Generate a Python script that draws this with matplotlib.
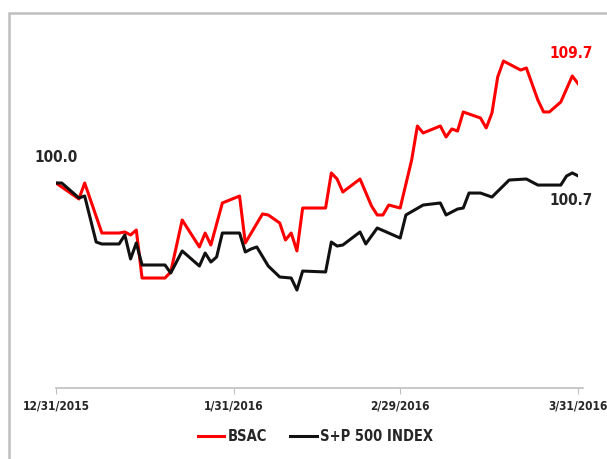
import numpy as np
import pandas as pd
import matplotlib
matplotlib.use("Agg")
import matplotlib.pyplot as plt
import matplotlib.dates as mdates
from matplotlib.patches import Rectangle

plt.rcParams["font.family"] = ["DejaVu Sans"]
plt.rcParams["font.stretch"] = "condensed"

start = pd.Timestamp("2015-12-31")

# days after 12/31/2015 and index level
bsac_days = [0, 4, 5, 8, 11, 12, 13, 14, 15, 19, 20, 22, 25, 26, 27, 29, 32, 33,
             36, 37, 39, 40, 41, 42, 43, 47, 48, 49, 50, 53, 55, 56, 57, 58, 60,
             62, 63, 64, 67, 68, 69, 70, 71, 74, 75, 76, 77, 78, 81, 82, 84, 85,
             86, 88, 90, 91]
bsac_vals = [100.0, 98.44, 100.0, 95.12, 95.12, 95.22, 94.93, 95.41, 90.73, 90.73,
             91.32, 96.39, 93.76, 95.12, 93.95, 98.05, 98.73, 94.15, 96.98, 96.88,
             96.10, 94.44, 95.12, 93.37, 97.56, 97.56, 100.98, 100.39, 99.12, 100.39,
             97.76, 96.88, 96.88, 97.85, 97.56, 102.24, 105.56, 104.88, 105.56, 104.49,
             105.27, 105.07, 106.93, 106.34, 105.37, 106.83, 110.34, 111.90, 111.02,
             111.22, 108.10, 106.93, 106.93, 107.90, 110.44, 109.7]

spx_days = [0, 1, 4, 5, 7, 8, 11, 12, 13, 14, 15, 19, 20, 22, 25, 26, 27, 28, 29,
            32, 33, 34, 35, 37, 39, 41, 42, 43, 47, 48, 49, 50, 53, 54, 56, 60, 61,
            64, 67, 68, 70, 71, 72, 74, 76, 79, 82, 84, 88, 89, 90, 91]
spx_vals = [100.0, 100.0, 98.54, 98.73, 94.24, 94.05, 94.05, 94.93, 92.59, 94.15,
            92.00, 92.00, 91.22, 93.37, 91.90, 93.17, 92.29, 92.78, 95.12, 95.12,
            93.27, 93.56, 93.76, 91.90, 90.83, 90.73, 89.56, 91.41, 91.32, 94.24,
            93.85, 93.95, 95.22, 94.05, 95.61, 94.63, 96.88, 97.85, 98.05, 96.88,
            97.46, 97.56, 99.02, 99.02, 98.63, 100.29, 100.39, 99.80, 99.80, 100.68,
            100.98, 100.7]

tick_days = [0, 31, 60, 91]
tick_labels = ["12/31/2015", "1/31/2016", "2/29/2016", "3/31/2016"]

bsac_dates = [start + pd.Timedelta(days=d) for d in bsac_days]
spx_dates = [start + pd.Timedelta(days=d) for d in spx_days]
tick_dates = [start + pd.Timedelta(days=d) for d in tick_days]

fig = plt.figure(figsize=(6.07, 4.59), dpi=100)
ax = fig.add_axes([56 / 607, 71 / 459, 522 / 607, 369 / 459])

ax.plot(bsac_dates, bsac_vals, color="#ff0000", lw=2.2, label="BSAC")
ax.plot(spx_dates, spx_vals, color="#111111", lw=2.2, label="S+P 500 INDEX")

ax.set_xlim(tick_dates[0], tick_dates[-1])
ax.set_ylim(80, 116)
ax.set_xticks(tick_dates)
ax.set_xticklabels(tick_labels, fontsize=8.6, fontweight="bold", color="#262626")
ax.tick_params(axis="x", length=4, color="#bfbfbf", pad=4.5)
ax.set_yticks([])
for s in ["left", "right", "top"]:
    ax.spines[s].set_visible(False)
ax.spines["bottom"].set_color("#bfbfbf")
ax.spines["bottom"].set_linewidth(1.2)
ax.spines["bottom"].set_bounds(mdates.date2num(tick_dates[0]), mdates.date2num(tick_dates[-1]) + 0.8)
ax.patch.set_alpha(0)

# end labels
ax.annotate(f"{bsac_vals[0]:.1f}", (bsac_dates[0], bsac_vals[0]), xytext=(0, 18),
            textcoords="offset points", ha="center", va="center",
            fontsize=11, fontweight="bold", color="#262626")
ax.annotate(f"{bsac_vals[-1]:.1f}", (bsac_dates[-1], bsac_vals[-1]), xytext=(-5, 21.5),
            textcoords="offset points", ha="center", va="center",
            fontsize=11, fontweight="bold", color="#ff0000", annotation_clip=False)
ax.annotate(f"{spx_vals[-1]:.1f}", (spx_dates[-1], spx_vals[-1]), xytext=(-5, -18),
            textcoords="offset points", ha="center", va="center",
            fontsize=11, fontweight="bold", color="#262626", annotation_clip=False)

fig.legend(loc="center", bbox_to_anchor=(0.52, 0.048), ncol=2, frameon=False,
           handlelength=1.8, handletextpad=0.25, columnspacing=1.6,
           prop={"size": 10.5, "weight": "bold", "stretch": "condensed"},
           labelcolor="#262626")

# outer chart frame
fig.patches.append(Rectangle((9 / 607, -0.1), 1.2, (459 - 13) / 459 + 0.1,
                             transform=fig.transFigure, fill=False,
                             edgecolor="#bfbfbf", lw=1.8))

fig.savefig("out.png", dpi=100)
